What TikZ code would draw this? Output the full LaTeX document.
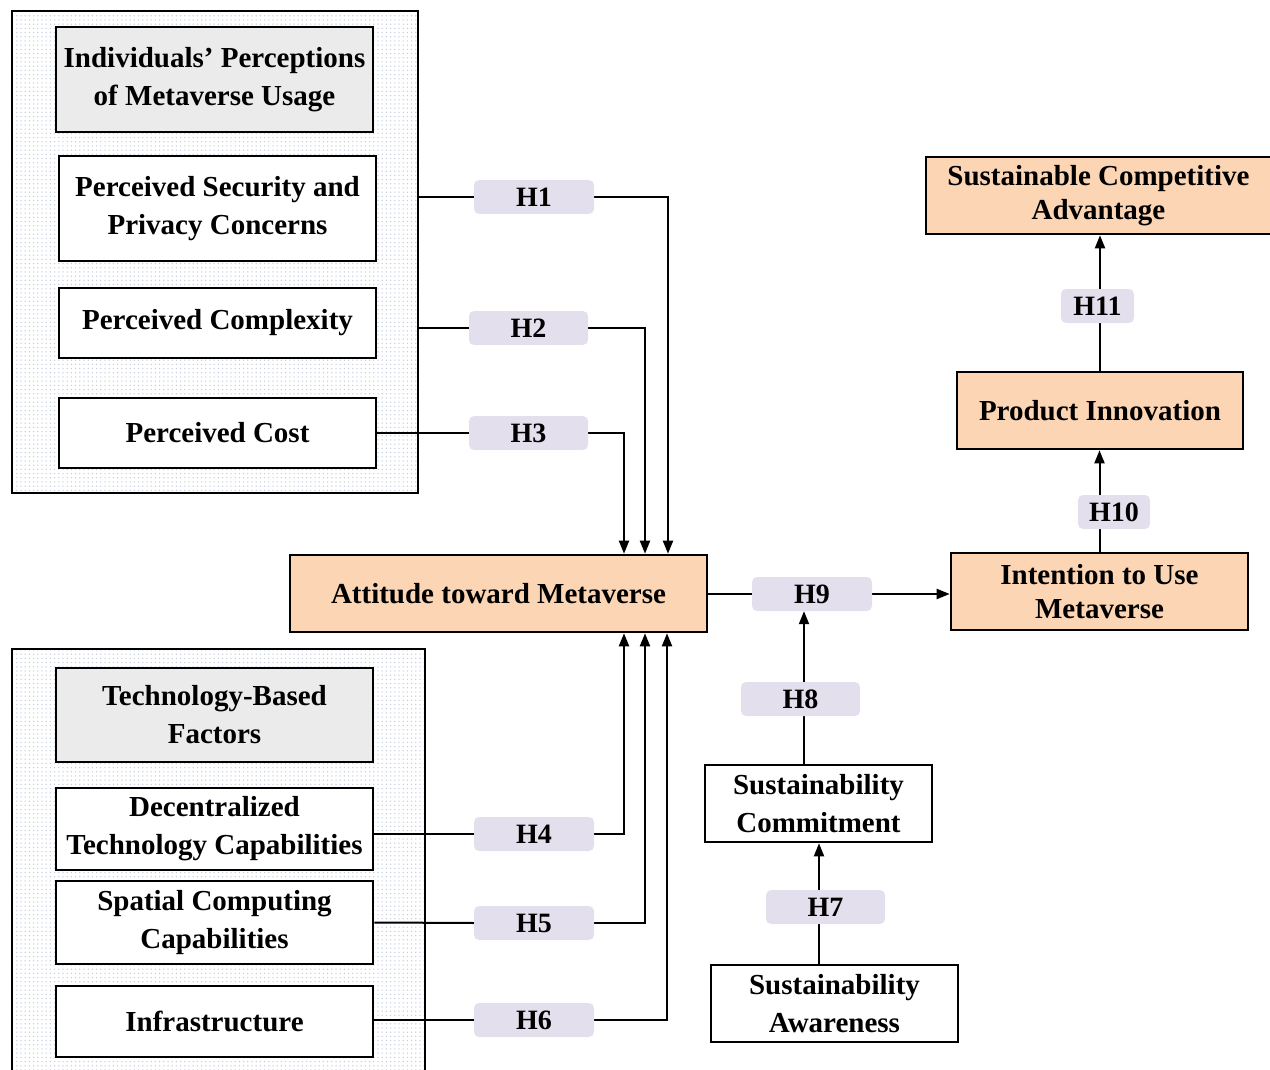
\documentclass[tikz,border=0pt]{standalone}
\usepackage{fontspec}
\setmainfont{Liberation Serif}
\usetikzlibrary{arrows.meta,patterns.meta}
\definecolor{peach}{HTML}{FCD5B4}
\definecolor{lav}{HTML}{E4DFEC}
\definecolor{hgray}{HTML}{EBEBEB}
\definecolor{dotc}{HTML}{C5CEDF}
\pgfdeclarelayer{bg}
\pgfdeclarelayer{mid}
\pgfsetlayers{bg,mid,main}
\tikzset{
  every node/.style={font=\bfseries\fontsize{29}{38}\selectfont, inner sep=0pt, align=center},
  box/.style={draw=black, line width=2.6pt, fill=white},
  hdr/.style={box, fill=hgray},
  mainbox/.style={box, fill=peach, font=\bfseries\fontsize{29}{34}\selectfont},
  grp/.style={draw=black, line width=2.4pt, preaction={fill=white}, pattern={Dots[distance=4.2pt, radius=0.75pt]}, pattern color=dotc},
  hlab/.style={fill=lav, rounded corners=5pt, minimum height=34pt, font=\bfseries\fontsize{28}{34}\selectfont},
  conn/.style={line width=2pt},
  arr/.style={conn, -{Triangle[length=13pt,width=10pt]}},
}
\begin{document}
\begin{tikzpicture}[x=1pt,y=-1pt]
\useasboundingbox (0,0) rectangle (1270,1070);
% group boxes
\begin{pgfonlayer}{bg}
\node[grp, minimum width=406pt, minimum height=482pt] (G1) at (215,252) {};
\node[grp, minimum width=413pt, minimum height=436pt] (G2) at (218.5,867) {};
\end{pgfonlayer}
% boxes
\node[hdr, minimum width=317pt, minimum height=105pt] (Hd1) at (214.5,79.5) {Individuals’ Perceptions\\of Metaverse Usage};
\node[box, minimum width=317pt, minimum height=105pt] (PSPC) at (217.5,208.5) {Perceived Security and\\Privacy Concerns};
\node[box, minimum width=317pt, minimum height=70pt] (PCo) at (217.5,323) {Perceived Complexity};
\node[box, minimum width=317pt, minimum height=70pt] (PCost) at (217.5,433) {Perceived Cost};
\node[hdr, minimum width=317pt, minimum height=94pt] (Hd2) at (214.5,715) {Technology-Based\\Factors};
\node[box, minimum width=317pt, minimum height=82pt] (DTC) at (214.5,829) {Decentralized\\Technology Capabilities};
\node[box, minimum width=317pt, minimum height=83pt] (SCC) at (214.5,922.5) {Spatial Computing\\Capabilities};
\node[box, minimum width=317pt, minimum height=71pt] (Inf) at (214.5,1021.5) {Infrastructure};
\node[mainbox, minimum width=417pt, minimum height=77pt] (Att) at (498.5,593.5) {Attitude toward Metaverse};
\node[mainbox, minimum width=297pt, minimum height=77pt] (Int) at (1099.5,591.5) {Intention to Use\\Metaverse};
\node[mainbox, minimum width=286pt, minimum height=77pt] (PI) at (1100,410.5) {Product Innovation};
\node[mainbox, minimum width=345pt, minimum height=77pt] (SCA) at (1098.5,195.5) {Sustainable Competitive\\Advantage};
\node[box, minimum width=227pt, minimum height=77pt] (SC) at (818.5,803.5) {Sustainability\\Commitment};
\node[box, minimum width=247pt, minimum height=77pt] (SA) at (834.5,1003.5) {Sustainability\\Awareness};
% hypothesis labels
\node[hlab, minimum width=120pt] (H1) at (534,197) {H1};
\node[hlab, minimum width=119pt] (H2) at (528.5,328) {H2};
\node[hlab, minimum width=119pt] (H3) at (528.5,433) {H3};
\node[hlab, minimum width=120pt] (H4) at (534,834) {H4};
\node[hlab, minimum width=120pt] (H5) at (534,923) {H5};
\node[hlab, minimum width=120pt] (H6) at (534,1020) {H6};
\node[hlab, minimum width=120pt] (H9) at (812,594) {H9};
\node[hlab, minimum width=119pt] (H8) at (800.5,699) {H8};
\node[hlab, minimum width=119pt] (H7) at (825.5,907) {H7};
\node[hlab, minimum width=72pt] (H10) at (1114,512) {H10};
\node[hlab, minimum width=73pt] (H11) at (1097.5,306) {H11};
% connectors
\begin{pgfonlayer}{mid}
\draw[conn] (G1.east |- H1.west) -- (H1.west);
\draw[arr] (H1.east) -| ([xshift=169.5pt]Att.north);
\draw[conn] (G1.east |- H2.west) -- (H2.west);
\draw[arr] (H2.east) -| ([xshift=146.5pt]Att.north);
\draw[conn] (PCost.east) -- (H3.west);
\draw[arr] (H3.east) -| ([xshift=125.5pt]Att.north);
\draw[conn] (DTC.east |- H4.west) -- (H4.west);
\draw[arr] (H4.east) -| ([xshift=125.5pt]Att.south);
\draw[conn] (SCC.east) -- (H5.west);
\draw[arr] (H5.east) -| ([xshift=146.5pt]Att.south);
\draw[conn] (Inf.east |- H6.west) -- (H6.west);
\draw[arr] (H6.east) -| ([xshift=168.5pt]Att.south);
\draw[conn] (Att.east |- H9.west) -- (H9.west);
\draw[arr] (H9.east) -- (Int.west |- H9.east);
\draw[arr] ([xshift=-14.5pt]SC.north) -- ([xshift=-14.5pt]SC.north |- H9.south);
\draw[arr] ([xshift=-15.5pt]SA.north) -- ([xshift=-15.5pt]SA.north |- SC.south);
\draw[arr] (Int.north) -- (Int.north |- PI.south);
\draw[arr] (PI.north) -- (PI.north |- SCA.south);
\end{pgfonlayer}
\end{tikzpicture}
\end{document}
